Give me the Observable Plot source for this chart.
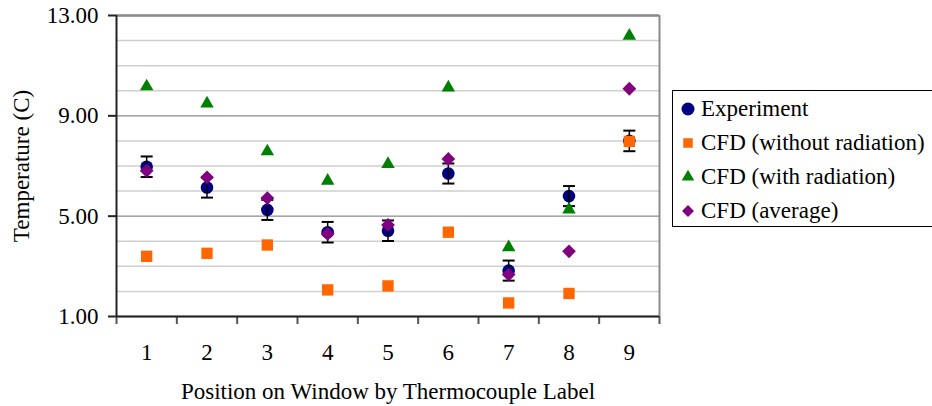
<!DOCTYPE html>
<html>
<head>
<meta charset="utf-8">
<script src="https://cdn.jsdelivr.net/npm/d3@7"></script>
<script src="https://cdn.jsdelivr.net/npm/@observablehq/plot@0.6"></script>
<style>
  html, body { margin: 0; padding: 0; background: #fff; }
  #wrap { position: relative; width: 932px; height: 406px; overflow: hidden; font-family: "Liberation Serif", "Times New Roman", serif; }
  #legend { position: absolute; left: 672px; top: 90px; width: 270px; height: 137px; box-sizing: border-box;
            border: 1px solid #000; background: #fff; font-size: 23px; color: #000; padding-top: 1px; }
  .row { height: 34px; display: flex; align-items: center; white-space: nowrap; }
  .row svg { margin-left: 7px; margin-right: 5px; flex: none; }
</style>
</head>
<body>
<div id="wrap"><div id="chart"></div><div id="legend"></div></div>
<script>
// Data
const positions = [1, 2, 3, 4, 5, 6, 7, 8, 9];
const experiment = [6.97, 6.14, 5.25, 4.36, 4.42, 6.70, 2.83, 5.80, 8.00];
const experimentErr = [0.41, 0.40, 0.40, 0.41, 0.41, 0.40, 0.40, 0.40, 0.41];
const cfdWithout = [3.40, 3.52, 3.85, 2.06, 2.22, 4.36, 1.54, 1.92, 7.98];
const cfdWith = [10.17, 9.49, 7.58, 6.41, 7.08, 10.13, 3.76, 5.26, 12.19];
const cfdAverage = [6.81, 6.55, 5.72, 4.29, 4.65, 7.28, 2.67, 3.60, 10.08];
const seriesNames = ["Experiment", "CFD (without radiation)", "CFD (with radiation)", "CFD (average)"];
const seriesColors = ["#000080", "#FF6600", "#008000", "#800080"];
const yTickLabels = [1, 5, 9, 13];
const yGrid = d3.range(1, 14);
const xBoundaries = d3.range(0.5, 10, 1);

const rows = (vals) => positions.map((p, i) => ({pos: p, v: vals[i], err: experimentErr[i]}));
const expRows = rows(experiment);

const capSymbol = {
  draw(context, size) {
    const w = Math.sqrt(size / Math.PI);
    context.moveTo(-w, 0);
    context.lineTo(w, 0);
  }
};

const chart = Plot.plot({
  width: 932,
  height: 406,
  marginLeft: 116,
  marginRight: 273,
  marginTop: 15,
  marginBottom: 90,
  style: {fontFamily: "'Liberation Serif', 'Times New Roman', serif", fontSize: "23px", background: "#fff", color: "#000", overflow: "visible"},
  x: {type: "linear", domain: [0.5, 9.5]},
  y: {type: "linear", domain: [1, 13]},
  marks: [
    Plot.gridY(yGrid, {stroke: "#cfcfcf", strokeOpacity: 1, strokeWidth: 1.5}),
    Plot.gridY(yTickLabels, {stroke: "#a6a6a6", strokeOpacity: 1, strokeWidth: 1.5}),
    Plot.ruleY([13], {stroke: "#8c8c8c", strokeWidth: 2.5}),
    Plot.ruleX([9.5], {stroke: "#8c8c8c", strokeWidth: 2}),
    Plot.axisY(yTickLabels, {tickFormat: d => d.toFixed(2), tickSize: 8, tickPadding: 10, strokeWidth: 2, stroke: "#222", fill: "#000",
      label: "Temperature (C)", labelAnchor: "center", labelOffset: 104, labelArrow: "none"}),
    Plot.axisX(xBoundaries, {tickFormat: () => "", tickSize: 8, strokeWidth: 2, stroke: "#555", label: null}),
    Plot.axisX(positions, {tickSize: 0, tickPadding: 27, tickFormat: d => String(d), fill: "#000",
      label: "Position on Window by Thermocouple Label", labelAnchor: "center", labelOffset: 82, labelArrow: "none"}),
    Plot.ruleX([0.5], {stroke: "#222", strokeWidth: 2}),
    Plot.ruleY([1], {stroke: "#222", strokeWidth: 2}),
    Plot.dot(expRows, {x: "pos", y: "v", r: 6.3, fill: seriesColors[0], symbol: "circle"}),
    Plot.ruleX(expRows, {x: "pos", y1: d => d.v - d.err, y2: d => d.v + d.err, stroke: "#000", strokeWidth: 1.5}),
    Plot.dot(expRows, {x: "pos", y: d => d.v - d.err, r: 6, symbol: capSymbol, stroke: "#000", strokeWidth: 2, fill: "none"}),
    Plot.dot(expRows, {x: "pos", y: d => d.v + d.err, r: 6, symbol: capSymbol, stroke: "#000", strokeWidth: 2, fill: "none"}),
    Plot.dot(rows(cfdWithout), {x: "pos", y: "v", r: 6.4, fill: seriesColors[1], symbol: "square"}),
    Plot.dot(rows(cfdWith), {x: "pos", y: "v", r: 5.0, fill: seriesColors[2], symbol: "triangle"}),
    Plot.dot(rows(cfdAverage), {x: "pos", y: "v", r: 6.2, fill: seriesColors[3], symbol: "diamond2"})
  ]
});
document.getElementById("chart").appendChild(chart);

// Legend
const symbols = ["circle", "square", "triangle", "diamond2"];
const legendR = [6.5, 6.0, 5.2, 6.0];
const legend = d3.select("#legend");
seriesNames.forEach((name, i) => {
  const row = legend.append("div").attr("class", "row");
  const svg = row.append("svg").attr("width", 16).attr("height", 16);
  const sym = symbols[i] === "circle" ? d3.symbolCircle : symbols[i] === "square" ? d3.symbolSquare
            : symbols[i] === "triangle" ? d3.symbolTriangle : d3.symbolDiamond2;
  svg.append("path")
    .attr("transform", "translate(8,8)")
    .attr("d", d3.symbol(sym, Math.PI * legendR[i] * legendR[i] * (i === 0 ? 1 : 0.8))())
    .attr("fill", seriesColors[i]);
  row.append("span").text(name);
});
</script>
</body>
</html>
